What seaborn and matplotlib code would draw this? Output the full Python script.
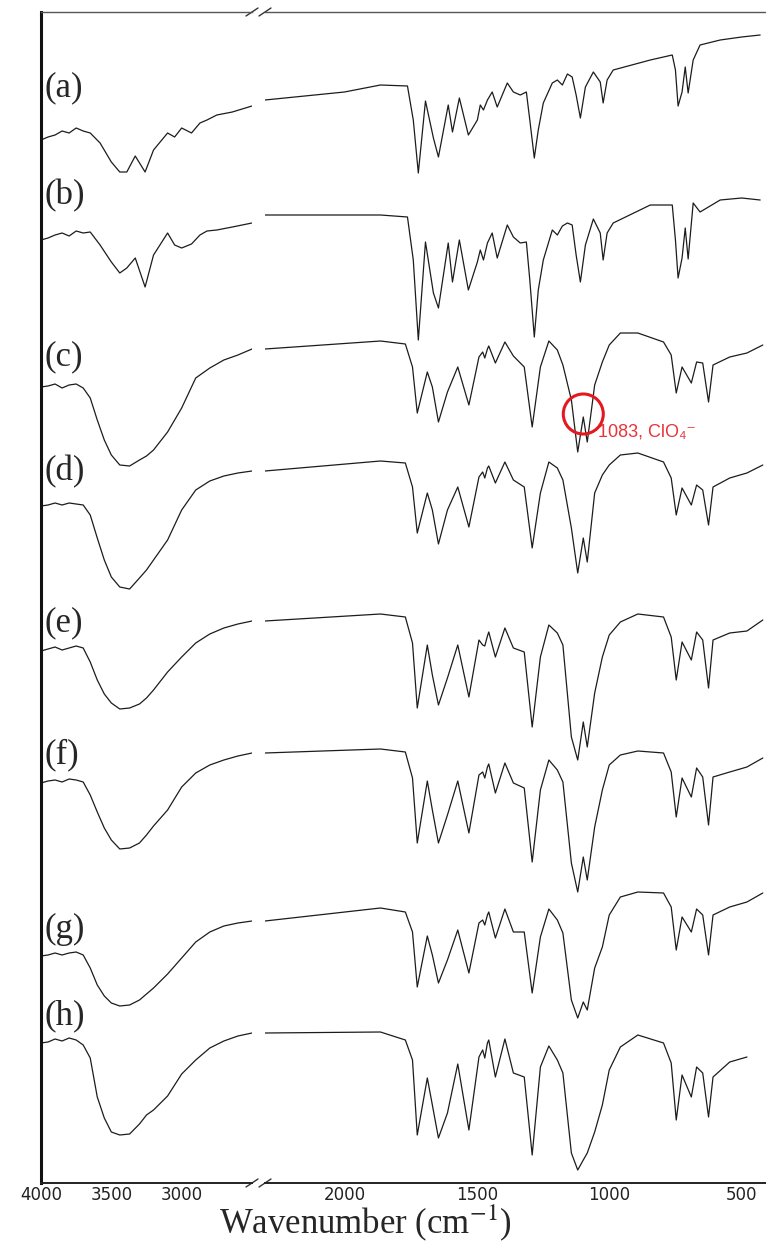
import numpy as np
import pandas as pd
import matplotlib
matplotlib.use("Agg")
import matplotlib.pyplot as plt
import seaborn as sns

# sample labels, top to bottom
samples = ["(a)", "(b)", "(c)", "(d)", "(e)", "(f)", "(g)", "(h)"]

# wavenumber grids (cm-1), high-wavenumber half of the broken axis
wn_hi_ab = [4000, 3950, 3900, 3850, 3800, 3750, 3700, 3650, 3580, 3500, 3440, 3390,
            3330, 3260, 3200, 3100, 3050, 3000, 2930, 2870, 2820, 2750, 2640, 2500]
wn_hi = [4000, 3950, 3900, 3850, 3800, 3750, 3700, 3650, 3600, 3550, 3500, 3440,
         3370, 3300, 3250, 3200, 3100, 3000, 2900, 2800, 2700, 2600, 2500]

# low-wavenumber half
wn_lo_ab = [2300, 2000, 1864, 1762, 1740, 1721, 1694, 1664, 1645, 1608, 1592, 1566, 1532,
            1498, 1487, 1475, 1460, 1442, 1423, 1385, 1362, 1336, 1313, 1300, 1283, 1268,
            1249, 1215, 1196, 1177, 1158, 1140, 1125, 1109, 1090, 1060, 1034, 1023, 1008,
            985, 845, 762, 750, 740, 725, 713, 702, 683, 657, 581, 500, 430]
wn_lo = [2300, 1864, 1770, 1743, 1725, 1687, 1668, 1645, 1611, 1572, 1530, 1492, 1478,
         1470, 1460, 1455, 1430, 1394, 1362, 1321, 1291, 1260, 1228, 1196, 1175, 1143,
         1119, 1098, 1083, 1055, 1026, 1000, 958, 892, 795, 766, 747, 725, 690, 670, 647,
         625, 608, 545, 480, 420]

# stacked spectra (offset a.u.; larger = lower on the page)
a_hi = [140, 137, 135, 131, 133, 128, 131, 133, 143, 162, 172, 172, 156, 172, 150, 133,
        137, 128, 133, 123, 120, 115, 112, 106]
b_hi = [240, 238, 235, 233, 236, 231, 233, 232, 245, 262, 273, 268, 258, 287, 255, 233,
        245, 248, 244, 235, 231, 230, 227, 223]
c_hi = [387, 386, 384, 388, 385, 384, 388, 398, 420, 440, 455, 465, 466, 460, 456, 450,
        432, 408, 378, 368, 360, 355, 349]
d_hi = [506, 505, 503, 505, 503, 504, 505, 515, 538, 560, 577, 587, 589, 578, 570, 560,
        540, 510, 490, 481, 476, 473, 471]
e_hi = [651, 649, 647, 650, 648, 646, 648, 662, 680, 694, 703, 709, 708, 704, 698, 690,
        672, 657, 643, 634, 628, 624, 621]
f_hi = [783, 781, 780, 782, 779, 780, 782, 795, 812, 828, 840, 849, 848, 843, 835, 826,
        810, 787, 773, 765, 760, 756, 753]
g_hi = [956, 955, 953, 955, 953, 952, 955, 968, 985, 996, 1003, 1006, 1005, 1000, 994,
        988, 974, 958, 942, 932, 926, 923, 921]
h_hi = [1043, 1042, 1039, 1041, 1038, 1040, 1045, 1058, 1097, 1118, 1132, 1135, 1134,
        1124, 1115, 1110, 1096, 1074, 1060, 1048, 1041, 1036, 1033]

a_lo = [100, 92, 85, 86, 120, 173, 101, 138, 157, 105, 132, 98, 135, 120, 105, 110, 100,
        92, 107, 83, 92, 95, 92, 120, 158, 130, 103, 83, 80, 85, 74, 77, 95, 118, 87, 72,
        82, 103, 80, 70, 60, 55, 70, 106, 92, 67, 93, 60, 45, 40, 37, 35]
b_lo = [215, 215, 215, 217, 260, 340, 242, 293, 308, 243, 282, 240, 290, 262, 250, 260,
        243, 233, 258, 225, 237, 243, 242, 280, 337, 290, 260, 230, 235, 226, 223, 225,
        255, 282, 245, 219, 233, 260, 233, 223, 205, 205, 240, 278, 258, 228, 259, 203,
        212, 200, 198, 200]
c_lo = [349, 341, 344, 367, 413, 372, 387, 422, 392, 367, 405, 357, 352, 358, 349, 346,
        363, 342, 356, 367, 427, 367, 341, 350, 365, 400, 452, 417, 442, 385, 362, 345,
        333, 333, 342, 355, 393, 367, 383, 362, 363, 402, 365, 357, 353, 345]
d_lo = [471, 461, 463, 487, 533, 493, 510, 544, 510, 487, 527, 477, 472, 478, 468, 466,
        483, 462, 480, 487, 548, 493, 462, 468, 480, 528, 573, 538, 562, 493, 475, 465,
        455, 453, 462, 478, 515, 488, 505, 485, 490, 525, 487, 478, 473, 465]
e_lo = [621, 614, 617, 643, 708, 645, 675, 705, 678, 645, 697, 640, 645, 646, 636, 632,
        657, 628, 648, 652, 727, 657, 625, 633, 645, 737, 760, 722, 747, 693, 657, 635,
        622, 614, 617, 637, 680, 642, 660, 632, 640, 688, 640, 633, 631, 620]
f_lo = [753, 749, 752, 778, 843, 781, 810, 843, 815, 781, 833, 775, 772, 778, 767, 764,
        793, 763, 783, 788, 862, 790, 760, 770, 782, 863, 892, 857, 880, 827, 790, 765,
        755, 751, 753, 772, 817, 778, 797, 768, 777, 825, 777, 772, 767, 758]
g_lo = [921, 908, 912, 932, 987, 936, 955, 983, 960, 930, 973, 923, 920, 925, 915, 912,
        938, 909, 932, 932, 993, 937, 909, 920, 933, 1000, 1018, 1002, 1010, 968, 947,
        915, 897, 892, 893, 907, 950, 917, 932, 909, 915, 955, 915, 907, 902, 893]
h_lo = [1033, 1032, 1040, 1060, 1135, 1078, 1105, 1138, 1113, 1064, 1130, 1057, 1050,
        1058, 1043, 1040, 1077, 1039, 1073, 1077, 1155, 1067, 1046, 1060, 1073, 1153,
        1170, 1160, 1153, 1132, 1105, 1070, 1047, 1035, 1043, 1063, 1120, 1075, 1097,
        1067, 1073, 1117, 1077, 1062, 1057, np.nan]

label_pos = [88, 196, 357, 472, 623, 755, 929, 1016]

# ClO4- marker
mark_wn, mark_y = 1098, 414
mark_text = "1083, ClO\u2084\u207b"

hi_vals = [a_hi, b_hi, c_hi, d_hi, e_hi, f_hi, g_hi, h_hi]
lo_vals = [a_lo, b_lo, c_lo, d_lo, e_lo, f_lo, g_lo, h_lo]

rows = []
for i, s in enumerate(samples):
    whi = wn_hi_ab if i < 2 else wn_hi
    wlo = wn_lo_ab if i < 2 else wn_lo
    for w, v in zip(whi, hi_vals[i]):
        rows.append({"sample": s, "seg": "hi", "wn": w, "T": v})
    for w, v in zip(wlo, lo_vals[i]):
        rows.append({"sample": s, "seg": "lo", "wn": w, "T": v})
df = pd.DataFrame(rows).dropna()

sns.set_style("white")
plt.rcParams["font.family"] = ["Liberation Serif", "DejaVu Serif"]
plt.rcParams["mathtext.fontset"] = "stix"

W, H = 766, 1245
fig = plt.figure(figsize=(W / 100, H / 100), dpi=100)
bot = (H - 1183) / H
hgt = (1183 - 12) / H
ax_l = fig.add_axes([41 / W, bot, 211 / W, hgt])
ax_r = fig.add_axes([265 / W, bot, 501 / W, hgt])

for seg, ax in (("hi", ax_l), ("lo", ax_r)):
    sns.lineplot(data=df[df["seg"] == seg], x="wn", y="T", units="sample",
                 estimator=None, sort=False, color="#1c1c1c", lw=0.9,
                 ax=ax, legend=False)
    ax.set_ylim(1183, 12)
    ax.set_xlabel("")
    ax.set_ylabel("")
    ax.set_yticks([])
    ax.spines["top"].set_linewidth(1.0)
    ax.spines["top"].set_color("#555555")
    ax.spines["bottom"].set_linewidth(1.4)
    ax.spines["bottom"].set_color("#222222")

ax_l.set_xlim(4000, 2500)
ax_l.set_xticks([4000, 3500, 3000])
ax_l.set_xticks([3750, 3250, 2750], minor=True)
ax_l.spines["right"].set_visible(False)
ax_l.spines["left"].set_linewidth(2.2)
ax_l.spines["left"].set_color("#111111")

ax_r.set_xlim(2300, 408)
ax_r.set_xticks([2000, 1500, 1000, 500])
ax_r.set_xticks([2250, 1750, 1250, 750], minor=True)
ax_r.spines["left"].set_visible(False)
ax_r.spines["right"].set_visible(False)
for ax in (ax_l, ax_r):
    ax.tick_params(axis="x", which="both", direction="in", length=4, width=1,
                   color="#333333", pad=2, labelsize=12, labelcolor="#222222")
    for t in ax.get_xticklabels():
        t.set_family("DejaVu Sans")

# break marks
kw = dict(color="#333333", lw=1.0, clip_on=False)
dy = 4 / 1171
dxl, dxr = 6 / 211, 6 / 501
for yy in (0, 1):
    ax_l.plot([1 - dxl, 1 + dxl], [yy - dy, yy + dy], transform=ax_l.transAxes, **kw)
    ax_r.plot([-dxr, dxr], [yy - dy, yy + dy], transform=ax_r.transAxes, **kw)

# sample labels
for s, y in zip(samples, label_pos):
    fig.text(44 / W, 1 - y / H, s, fontsize=25, ha="left", va="center")

# annotation
ax_r.scatter([mark_wn], [mark_y], s=830, facecolors="none", edgecolors="#e3191f",
             linewidths=2.2, zorder=5)
ax_r.text(1042, 432, mark_text, color="#e8333a", fontsize=13, ha="left", va="center",
          family=["Liberation Sans", "DejaVu Sans"])

fig.text(365 / W, 1 - 1243 / H, "Wavenumber (cm$^{-1}$)", fontsize=25,
         ha="center", va="bottom")

fig.savefig("out.png", dpi=100)
